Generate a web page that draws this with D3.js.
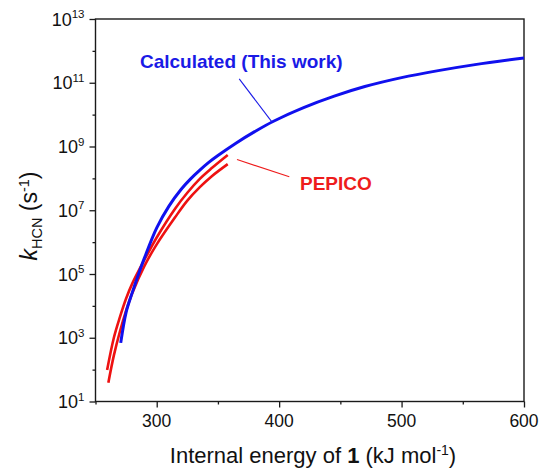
<!DOCTYPE html>
<html>
<head>
<meta charset="utf-8">
<script src="https://cdn.jsdelivr.net/npm/d3@7"></script>
<style>
  body { margin: 0; background: #fff; }
  svg { font-family: "Liberation Sans", Arial, sans-serif; }
</style>
</head>
<body>
<svg id="chart" width="541" height="470"></svg>
<script>
// ---- data (energy in kJ/mol, k in s^-1) ----
var calcE = [270.6, 275, 280, 285, 290, 300, 310, 320, 327.5, 335, 342.5, 350, 365, 380, 395, 420, 445, 470, 500, 530, 560, 600];
var calcK = [6.9e2, 6.3e3, 2.6e4, 9.5e4, 3.2e5, 2.8e6, 1.35e7, 4.57e7, 9.5e7, 1.78e8, 3.16e8, 5.2e8, 1.29e9, 2.92e9, 6.1e9, 1.66e10, 3.8e10, 7.6e10, 1.45e11, 2.4e11, 3.7e11, 6.0e11];

var pepUpE = [259.5, 265, 270, 275, 280, 290, 300, 315, 325, 335, 345, 358];
var pepUpK = [9.8e1, 1.0e3, 4.5e3, 1.7e4, 5.0e4, 2.8e5, 1.4e6, 1.12e7, 3.55e7, 9.5e7, 2.1e8, 5.4e8];

var pepLoE = [260.5, 265, 270, 275, 280, 290, 300, 315, 325, 335, 345, 358];
var pepLoK = [3.9e1, 2.8e2, 1.6e3, 7.1e3, 2.5e4, 1.8e5, 8.5e5, 6.0e6, 2.0e7, 5.2e7, 1.17e8, 2.8e8];

var xMajor = [300, 400, 500, 600];
var xMinor = [250, 350, 450, 550];
var yMajorExp = [1, 3, 5, 7, 9, 11, 13];
var yMinorExp = [2, 4, 6, 8, 10, 12];

var svg = d3.select("#chart");
var pLeft = 95.5, pRight = 524, pTop = 19, pBottom = 401.5;

var x = d3.scaleLinear().domain([250, 600]).range([pLeft, pRight]);
var y = d3.scaleLog().domain([1e1, 1e13]).range([pBottom, pTop]);

/*========== axes ===========*/
var axisCol = "#1a1a1a";

var xAx = svg.append("g").attr("transform", "translate(0," + pBottom + ")");
xAx.call(d3.axisBottom(x).tickValues(xMajor).tickSize(6).tickFormat(""));
xAx.append("g").call(d3.axisBottom(x).tickValues(xMinor).tickSize(3).tickFormat(""));
xAx.selectAll(".domain").remove();
xAx.selectAll("line").attr("stroke", axisCol).attr("stroke-width", 1.3);

svg.append("g").selectAll("text")
    .data(xMajor).enter().append("text")
    .attr("x", function (d) { return x(d); })
    .attr("y", pBottom + 25)
    .attr("text-anchor", "middle")
    .attr("font-size", 17.5)
    .attr("fill", "#111")
    .text(function (d) { return d; });

var yAx = svg.append("g").attr("transform", "translate(" + pLeft + ",0)");
yAx.call(d3.axisLeft(y).tickValues(yMajorExp.map(function (e) { return Math.pow(10, e); })).tickSize(6).tickFormat(""));
yAx.append("g").call(d3.axisLeft(y).tickValues(yMinorExp.map(function (e) { return Math.pow(10, e); })).tickSize(3).tickFormat(""));
yAx.selectAll(".domain").remove();
yAx.selectAll("line").attr("stroke", axisCol).attr("stroke-width", 1.3);

var yLab = svg.append("g").selectAll("text")
    .data(yMajorExp).enter().append("text")
    .attr("x", pLeft - 11)
    .attr("y", function (d) { return y(Math.pow(10, d)) + 6.5; })
    .attr("text-anchor", "end")
    .attr("font-size", 18)
    .attr("fill", "#111");
yLab.append("tspan").text("10");
yLab.append("tspan").attr("font-size", 11.5).attr("dy", -7.5).text(function (d) { return d; });

// frame
svg.append("rect")
    .attr("x", pLeft).attr("y", pTop)
    .attr("width", pRight - pLeft).attr("height", pBottom - pTop)
    .attr("fill", "none").attr("stroke", axisCol).attr("stroke-width", 1.4);

/*========== axis titles ===========*/
var xt = svg.append("text")
    .attr("x", 313).attr("y", 463)
    .attr("text-anchor", "middle")
    .attr("font-size", 22)
    .attr("fill", "#111");
xt.append("tspan").text("Internal energy of ");
xt.append("tspan").attr("font-weight", "bold").text("1");
xt.append("tspan").text(" (kJ mol");
xt.append("tspan").attr("font-size", 14).attr("dy", -8).text("-1");
xt.append("tspan").attr("dy", 8).text(")");

var yt = svg.append("text")
    .attr("transform", "translate(37,216) rotate(-90)")
    .attr("text-anchor", "middle")
    .attr("font-size", 23)
    .attr("fill", "#111");
yt.append("tspan").attr("font-style", "italic").text("k");
yt.append("tspan").attr("font-size", 14.5).attr("dy", 5).text("HCN");
yt.append("tspan").attr("dy", -5).text(" (s");
yt.append("tspan").attr("font-size", 14.5).attr("dy", -8).text("-1");
yt.append("tspan").attr("dy", 8).text(")");

/*========== curves ===========*/
var line = d3.line()
    .x(function (d) { return x(d[0]); })
    .y(function (d) { return y(d[1]); })
    .curve(d3.curveCatmullRom.alpha(0.5));

var series = [
    { e: pepUpE, k: pepUpK, color: "#ee1111", w: 2.6 },
    { e: pepLoE, k: pepLoK, color: "#ee1111", w: 2.6 },
    { e: calcE, k: calcK, color: "#1010ee", w: 3 }
];

svg.append("g").selectAll("path")
    .data(series).enter().append("path")
    .attr("d", function (s) { return line(s.e.map(function (v, i) { return [v, s.k[i]]; })); })
    .attr("fill", "none")
    .attr("stroke", function (s) { return s.color; })
    .attr("stroke-width", function (s) { return s.w; })
    .attr("stroke-linecap", "butt");

/*========== annotations ===========*/
var notes = [
    { text: "Calculated (This work)", color: "#1a1ae6", tx: 286.3, tk: 2.9e11, from: [367.4, 1.32e11], to: [393.9, 6.0e9] },
    { text: "PEPICO", color: "#ee1c1c", tx: 417, tk: 4.4e7, from: [365.6, 3.9e8], to: [408.3, 1.12e8] }
];

svg.append("g").selectAll("line")
    .data(notes).enter().append("line")
    .attr("x1", function (d) { return x(d.from[0]); })
    .attr("y1", function (d) { return y(d.from[1]); })
    .attr("x2", function (d) { return x(d.to[0]); })
    .attr("y2", function (d) { return y(d.to[1]); })
    .attr("stroke", function (d) { return d.color; })
    .attr("stroke-width", 1.1);

svg.append("g").selectAll("text")
    .data(notes).enter().append("text")
    .attr("x", function (d) { return x(d.tx); })
    .attr("y", function (d) { return y(d.tk); })
    .attr("font-size", 19)
    .attr("font-weight", "bold")
    .attr("fill", function (d) { return d.color; })
    .text(function (d) { return d.text; });
</script>
</body>
</html>
